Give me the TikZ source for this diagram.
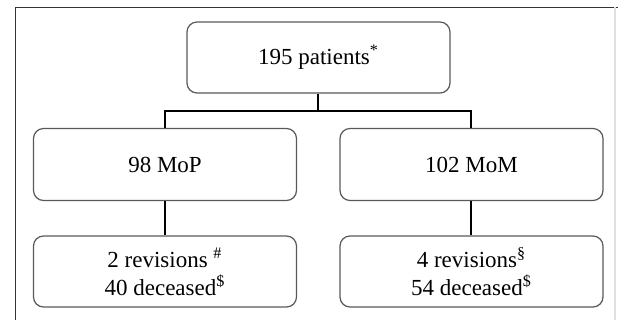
\documentclass[tikz,border=0pt]{standalone}
\usepackage{fontspec}
\setmainfont{Liberation Serif}
\usetikzlibrary{positioning}

\begin{document}
\begin{tikzpicture}[x=0.5pt,y=-0.5pt,box/.style={draw=black!65,line width=0.6pt,rounded corners=5pt,minimum width=131.5pt,minimum height=36pt,align=center,font=\fontsize{11.5}{14}\selectfont},link/.style={line width=1pt}]
\useasboundingbox (0,0) rectangle (618,320);
\draw[black!80,line width=0.7pt] (15.7,320) -- (15.7,7.3) -- (618,7.3);
\draw[black!12,line width=0.6pt] (615,7.3) -- (615,320);
\node[box,minimum height=35.5pt] (all) at (318.5,57.5) {195 patients\textsuperscript{*}};
\node[box] (mop) at (165,164.5) {98 MoP};
\node[box] (mom) at (471.5,164.5) {102 MoM};
\node[box,minimum height=35.5pt] (mopout) at (165,271.5) {2 revisions \textsuperscript{\#}\\40 deceased\textsuperscript{\$}};
\node[box,minimum height=35.5pt] (momout) at (471.5,271.5) {4 revisions\textsuperscript{\S}\\54 deceased\textsuperscript{\$}};
\coordinate (split) at (318.5,111);
\draw[link] (all) -- (split);
\foreach \j in {mop,mom} {
  \draw[link] (split) -| (\j);
  \draw[link] (\j) -- (\j out);
}
\end{tikzpicture}
\end{document}
